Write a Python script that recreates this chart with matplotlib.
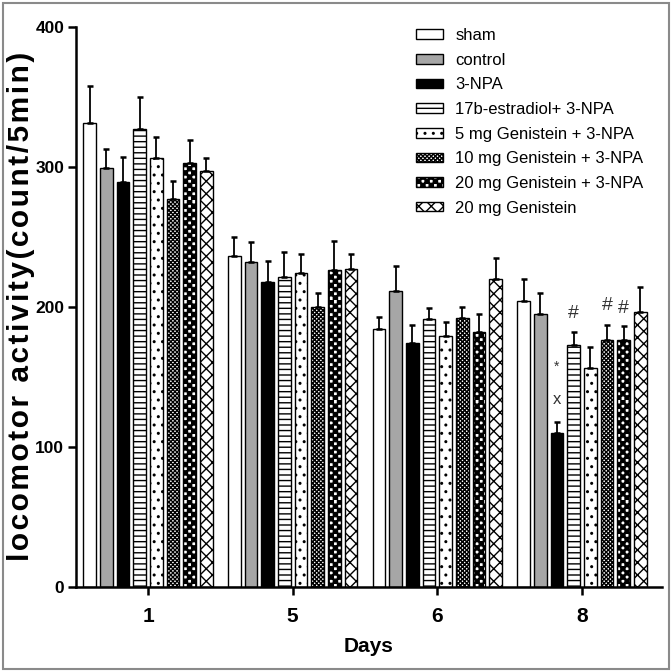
import numpy as np
import matplotlib
matplotlib.use("Agg")
import matplotlib.pyplot as plt
from matplotlib import hatch as mhatch
from matplotlib.patches import Rectangle
from matplotlib.path import Path
from matplotlib import font_manager

# ---------------- data ----------------
days = ["1", "5", "6", "8"]
groups = ["sham", "control", "3-NPA", "17b-estradiol+ 3-NPA",
          "5 mg Genistein + 3-NPA", "10 mg Genistein + 3-NPA",
          "20 mg Genistein + 3-NPA", "20 mg Genistein"]

sham      = [331, 236, 184, 204]
control   = [299, 232, 211, 195]
npa       = [289, 218, 174, 110]
estradiol = [327, 221, 191, 173]
gen5      = [306, 224, 179, 156]
gen10     = [277, 200, 192, 176]
gen20     = [303, 226, 182, 176]
gen20only = [297, 227, 220, 196]

sham_err      = [27, 14, 9, 16]
control_err   = [14, 14, 18, 15]
npa_err       = [18, 15, 13, 8]
estradiol_err = [23, 18, 8, 9]
gen5_err      = [15, 14, 10, 15]
gen10_err     = [13, 10, 8, 11]
gen20_err     = [16, 21, 13, 10]
gen20only_err = [9, 11, 15, 18]

# significance marks: (day index, group index, y value, text)
mark_day   = [3, 3, 3, 3, 3]
mark_group = [2, 2, 3, 5, 6]
mark_y     = [157, 134, 195, 201, 199]
mark_text  = ["*", "x", "#", "#", "#"]

ylabel_text = "locomotor activity(count/5min)"
xlabel_text = "Days"

# ---------------- custom hatches ----------------
class CheckerHatch(mhatch.HatchPatternBase):
    """filled checkerboard, triggered by '*'"""
    def __init__(self, hatch, density):
        self.n = hatch.count('*') * density
        if self.n % 2:
            self.n += 1
        self.cells = ([(i, j) for i in range(self.n) for j in range(self.n)
                       if (i + j) % 2 == 0] if self.n else [])
        self.num_vertices = len(self.cells) * 5

    def set_vertices_and_codes(self, vertices, codes):
        s = 1.0 / self.n
        k = 0
        for (i, j) in self.cells:
            x0, y0 = i * s, j * s
            vertices[k:k + 5] = [[x0, y0], [x0 + s, y0], [x0 + s, y0 + s],
                                 [x0, y0 + s], [x0, y0]]
            codes[k:k + 5] = [Path.MOVETO, Path.LINETO, Path.LINETO,
                              Path.LINETO, Path.CLOSEPOLY]
            k += 5


class CrossHatch(mhatch.HatchPatternBase):
    """diagonal cross lines, n per unit, triggered by 'O'"""
    def __init__(self, hatch, density):
        self.n = hatch.count('O') * 8
        self.num_vertices = (2 * self.n + 1) * 4 if self.n else 0

    def set_vertices_and_codes(self, vertices, codes):
        c = np.arange(-self.n, self.n + 1) / self.n
        m = len(c)
        v = np.empty((2 * m, 2, 2))
        v[:m, 0, 0] = 0.0
        v[:m, 0, 1] = c
        v[:m, 1, 0] = 1.0
        v[:m, 1, 1] = 1.0 + c
        v[m:, 0, 0] = 0.0
        v[m:, 0, 1] = 1.0 + c
        v[m:, 1, 0] = 1.0
        v[m:, 1, 1] = c
        vertices[:] = v.reshape(-1, 2)
        codes[0::2] = Path.MOVETO
        codes[1::2] = Path.LINETO


mhatch._hatch_types[:] = [h for h in mhatch._hatch_types
                          if h not in (mhatch.Stars, mhatch.LargeCircles)] + [CheckerHatch, CrossHatch]

# ---------------- fonts ----------------
avail = {f.name for f in font_manager.fontManager.ttflist}
main_font = "Liberation Sans" if "Liberation Sans" in avail else "DejaVu Sans"
plt.rcParams['font.family'] = [main_font, 'DejaVu Sans']
plt.rcParams['hatch.linewidth'] = 1.0

# ---------------- plot ----------------
fig = plt.figure(figsize=(6.72, 6.72), dpi=100)
ax = fig.add_axes([76 / 672, 1 - 586.7 / 672, (662 - 76) / 672, (586.7 - 26.7) / 672])

series = [sham, control, npa, estradiol, gen5, gen10, gen20, gen20only]
errs = [sham_err, control_err, npa_err, estradiol_err, gen5_err, gen10_err,
        gen20_err, gen20only_err]
faces = ["white", "#a6a6a6", "black", "white", "white", "white", "white", "white"]
hatches = [None, None, None, "---", "..", "xxxxxxxx", "****", "O"]

x = np.arange(len(days))
step = 0.1154
width = 0.088
for gi, (vals, ev) in enumerate(zip(series, errs)):
    pos = x + (gi - 3.5) * step
    ax.bar(pos, vals, width=width, color=faces[gi], edgecolor="black",
           linewidth=1.0, hatch=hatches[gi], label=groups[gi], zorder=2)
    ax.errorbar(pos, vals, yerr=[np.zeros(len(vals)), ev], fmt="none",
                ecolor="black", elinewidth=1.3, capsize=2.2, capthick=1.8, zorder=3)

for d, g, yv, t in zip(mark_day, mark_group, mark_y, mark_text):
    ax.text(x[d] + (g - 3.5) * step, yv, t, ha="center", va="center",
            fontsize={"*": 10, "x": 12, "#": 14}[t], color="#333333", zorder=4)

ax.set_xlim(-0.498, 3.553)
ax.set_ylim(0, 400)
ax.set_yticks([0, 100, 200, 300, 400])
ax.set_xticks(x)
ax.set_xticklabels(days)
for s in ["top", "right"]:
    ax.spines[s].set_visible(False)
for s in ["left", "bottom"]:
    ax.spines[s].set_linewidth(1.8)
ax.tick_params(axis="both", direction="out", width=1.8, length=5.5)
ax.tick_params(axis="y", labelsize=12.5, pad=3)
ax.tick_params(axis="x", labelsize=15, pad=9)
for lab in ax.get_yticklabels() + ax.get_xticklabels():
    lab.set_fontweight("bold")

# letter-spaced y label (hair spaces between characters)
spaced = "\u200a".join(ylabel_text)
ax.set_ylabel(spaced, fontsize=21.5, fontweight="bold")
ax.yaxis.set_label_coords(-0.07, 0.5)
ax.set_xlabel(xlabel_text, fontsize=15, fontweight="bold", labelpad=8)

leg = ax.legend(loc="upper left", bbox_to_anchor=(416 / 672, 1 - 28 / 672),
                bbox_transform=fig.transFigure, frameon=False, borderpad=0,
                borderaxespad=0, handlelength=1.6, handleheight=0.5,
                handletextpad=0.75, labelspacing=0.58,
                prop={"size": 12})

# outer gray frame
fig.patches.append(Rectangle((3 / 672, 3 / 672), 666 / 672, 666 / 672,
                             transform=fig.transFigure, fill=False,
                             edgecolor="#8a8a8a", linewidth=1.5))

fig.savefig("out.png", dpi=100)
